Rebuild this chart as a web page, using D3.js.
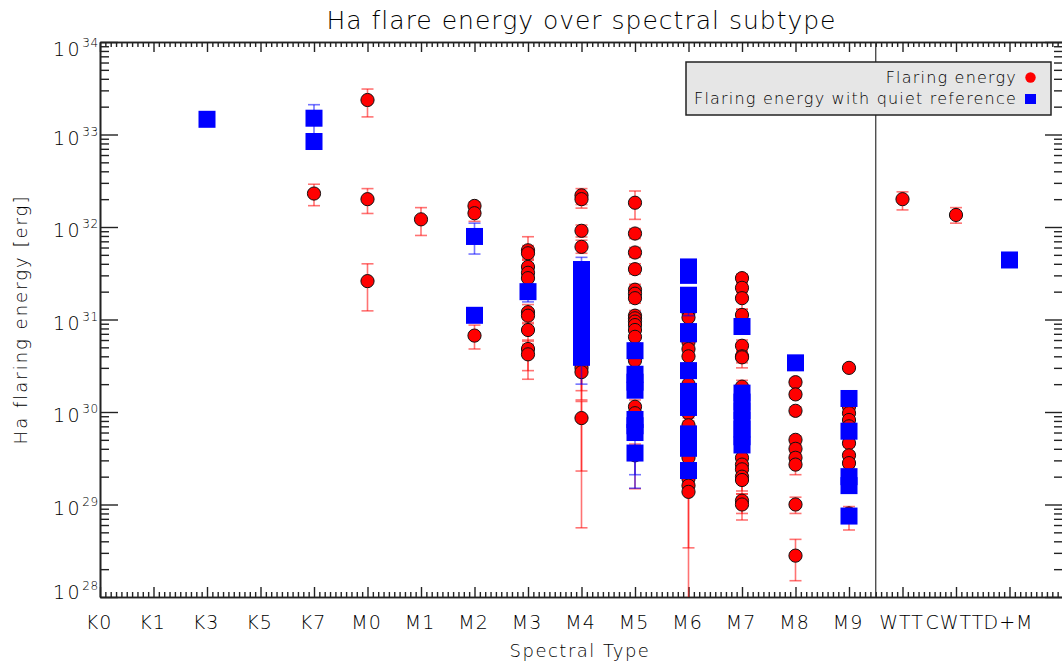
<!DOCTYPE html>
<html><head><meta charset="utf-8">
<script src="https://cdn.jsdelivr.net/npm/d3@7"></script>
<style>
body{margin:0;background:#fff}
svg text{font-family:"DejaVu Sans",sans-serif;font-weight:200;fill:#000}
</style></head><body>
<svg id="chart" width="1062" height="666"></svg>
<script>
// Spectral subtype categories along the x axis (one slot per label)
const categories = ["K0","K1","K3","K5","K7","M0","M1","M2","M3","M4","M5","M6","M7","M8","M9","WTT","CWTT","D+M"];
// Boundary between single subtypes and the combined groups
const groupSplit = 14.5;

// Flaring energy: [subtype, energy, lower error, upper error] (erg)
const flaring = [
  ["K7", 2.3e32, 1.7e32, 2.9e32],
  ["M0", 2.36e33, 1.55e33, 3.1e33],
  ["M0", 2.0e32, 1.4e32, 2.6e32],
  ["M0", 2.6e31, 1.24e31, 4.0e31],
  ["M1", 1.21e32, 8.1e31, 1.62e32],
  ["M2", 1.69e32, 1.5e32, 1.86e32],
  ["M2", 1.41e32, 1.15e32, 1.6e32],
  ["M2", 6.7e30, 4.8e30, 8.7e30],
  ["M3", 5.6e31, 4.6e31, 7.85e31],
  ["M3", 5.2e31, 4.4e31, 6.3e31],
  ["M3", 3.7e31, 3.1e31, 4.4e31],
  ["M3", 3.2e31, 2.7e31, 3.8e31],
  ["M3", 2.8e31, 2.4e31, 3.3e31],
  ["M3", 1.2e31, 1.0e31, 1.45e31],
  ["M3", 1.1e31, 9.0e30, 1.3e31],
  ["M3", 7.7e30, 5.8e30, 9.3e30],
  ["M3", 4.8e30, 2.8e30, 6.0e30],
  ["M3", 4.2e30, 2.26e30, 5.4e30],
  ["M4", 2.2e32, 1.6e32, 2.6e32],
  ["M4", 2.0e32, 1.75e32, 2.35e32],
  ["M4", 9.1e31, 7.8e31, 1.05e32],
  ["M4", 6.1e31, 5.2e31, 7.2e31],
  ["M4", 3.3e30, 2.3e29, 3.9e30],
  ["M4", 3.0e30, 1.7e30, 3.6e30],
  ["M4", 2.7e30, 1.35e30, 3.2e30],
  ["M4", 8.6e29, 5.6e28, 1.3e30],
  ["M5", 1.83e32, 1.21e32, 2.45e32],
  ["M5", 8.5e31, 7.5e31, 9.6e31],
  ["M5", 5.3e31, 4.7e31, 6.0e31],
  ["M5", 3.5e31, 3.1e31, 4.0e31],
  ["M5", 2.1e31, 1.85e31, 2.4e31],
  ["M5", 1.9e31, 1.65e31, 2.2e31],
  ["M5", 1.7e31, 1.5e31, 1.95e31],
  ["M5", 1.1e31, 9.6e30, 1.25e31],
  ["M5", 1.03e31, 9.0e30, 1.18e31],
  ["M5", 9.5e30, 8.3e30, 1.1e31],
  ["M5", 8.7e30, 7.6e30, 1.0e31],
  ["M5", 7.7e30, 6.7e30, 8.9e30],
  ["M5", 6.5e30, 5.6e30, 7.5e30],
  ["M5", 3.6e30, 3.0e30, 4.2e30],
  ["M5", 1.14e30, 9.5e29, 1.35e30],
  ["M5", 9.7e29, 8.0e29, 1.15e30],
  ["M5", 3.4e29, 1.48e29, 4.5e29],
  ["M6", 1.2e31, 1.05e31, 1.4e31],
  ["M6", 1.05e31, 9.0e30, 1.2e31],
  ["M6", 5.7e30, 4.9e30, 6.6e30],
  ["M6", 4.8e30, 4.1e30, 5.6e30],
  ["M6", 4.0e30, 3.4e30, 4.7e30],
  ["M6", 2.0e30, 1.6e30, 2.4e30],
  ["M6", 9.7e29, 8.0e29, 1.15e30],
  ["M6", 7.2e29, 6.0e29, 8.6e29],
  ["M6", 3.2e29, 2.6e29, 3.9e29],
  ["M6", 1.9e29, 1.55e29, 2.3e29],
  ["M6", 1.6e29, 3.4e28, 2.0e29],
  ["M6", 1.37e29, 5.0e27, 1.7e29],
  ["M7", 2.8e31, 2.5e31, 3.1e31],
  ["M7", 2.2e31, 1.95e31, 2.5e31],
  ["M7", 1.7e31, 1.3e31, 2.0e31],
  ["M7", 1.12e31, 9.8e30, 1.28e31],
  ["M7", 5.2e30, 4.5e30, 6.0e30],
  ["M7", 4.0e30, 3.4e30, 4.6e30],
  ["M7", 3.9e30, 3.0e30, 4.5e30],
  ["M7", 1.88e30, 1.6e30, 2.2e30],
  ["M7", 3.2e29, 2.7e29, 3.8e29],
  ["M7", 2.7e29, 2.3e29, 3.2e29],
  ["M7", 2.4e29, 2.0e29, 2.8e29],
  ["M7", 2.0e29, 1.4e29, 2.4e29],
  ["M7", 1.84e29, 1.3e29, 2.2e29],
  ["M7", 1.1e29, 8.0e28, 1.3e29],
  ["M7", 1.0e29, 6.8e28, 1.2e29],
  ["M8", 2.1e30, 1.9e30, 2.3e30],
  ["M8", 1.55e30, 1.4e30, 1.7e30],
  ["M8", 1.03e30, 9.3e29, 1.14e30],
  ["M8", 5.0e29, 4.5e29, 5.5e29],
  ["M8", 4.0e29, 3.6e29, 4.4e29],
  ["M8", 3.2e29, 2.9e29, 3.5e29],
  ["M8", 2.7e29, 2.1e29, 3.0e29],
  ["M8", 1.0e29, 8.0e28, 1.2e29],
  ["M8", 2.8e28, 1.5e28, 4.2e28],
  ["M9", 3.0e30, 2.8e30, 3.2e30],
  ["M9", 1.14e30, 1.04e30, 1.25e30],
  ["M9", 9.7e29, 8.8e29, 1.06e30],
  ["M9", 8.2e29, 7.5e29, 9.0e29],
  ["M9", 7.0e29, 6.4e29, 7.7e29],
  ["M9", 5.5e29, 5.0e29, 6.0e29],
  ["M9", 4.6e29, 4.2e29, 5.0e29],
  ["M9", 3.4e29, 3.1e29, 3.7e29],
  ["M9", 2.8e29, 2.5e29, 3.1e29],
  ["M9", 8.0e28, 5.3e28, 9.5e28],
  ["WTT", 2.0e32, 1.53e32, 2.4e32],
  ["CWTT", 1.35e32, 1.1e32, 1.62e32]
];

// Flaring energy measured against a quiet reference: [subtype, energy, lower, upper]
const quietRef = [
  ["K3", 1.46e33, 1.38e33, 1.55e33],
  ["K7", 1.5e33, 1.0e33, 2.1e33],
  ["K7", 8.4e32, 7.6e32, 9.3e32],
  ["M2", 7.9e31, 5.1e31, 1.1e32],
  ["M2", 1.11e31, 1.0e31, 1.22e31],
  ["M3", 2.0e31, 1.55e31, 2.4e31],
  ["M4", 3.47e31, 3.1e31, 4.7e31],
  ["M4", 2.5e31, 2.2e31, 2.8e31],
  ["M4", 1.9e31, 1.7e31, 2.1e31],
  ["M4", 1.41e31, 1.25e31, 1.6e31],
  ["M4", 1.02e31, 9.0e30, 1.15e31],
  ["M4", 7.6e30, 6.7e30, 8.6e30],
  ["M4", 5.75e30, 5.1e30, 6.5e30],
  ["M4", 4.4e30, 3.9e30, 5.0e30],
  ["M4", 3.9e30, 2.0e30, 4.4e30],
  ["M5", 4.6e30, 4.0e30, 5.2e30],
  ["M5", 2.56e30, 2.3e30, 2.9e30],
  ["M5", 2.1e30, 1.9e30, 2.35e30],
  ["M5", 1.72e30, 1.5e30, 1.95e30],
  ["M5", 8.3e29, 7.4e29, 9.3e29],
  ["M5", 7.1e29, 6.3e29, 8.0e29],
  ["M5", 6.0e29, 2.1e29, 6.8e29],
  ["M5", 3.6e29, 1.5e29, 4.1e29],
  ["M6", 3.7e31, 3.3e31, 4.1e31],
  ["M6", 3.0e31, 2.7e31, 3.4e31],
  ["M6", 1.83e31, 1.6e31, 2.1e31],
  ["M6", 1.45e31, 1.1e31, 1.65e31],
  ["M6", 7.4e30, 6.6e30, 8.3e30],
  ["M6", 7.0e30, 6.2e30, 7.8e30],
  ["M6", 2.8e30, 2.5e30, 3.15e30],
  ["M6", 1.67e30, 1.5e30, 1.85e30],
  ["M6", 1.38e30, 1.25e30, 1.55e30],
  ["M6", 1.12e30, 1.0e30, 1.25e30],
  ["M6", 5.8e29, 5.2e29, 6.5e29],
  ["M6", 4.85e29, 4.3e29, 5.4e29],
  ["M6", 4.05e29, 3.6e29, 4.5e29],
  ["M6", 2.33e29, 2.1e29, 2.6e29],
  ["M7", 8.4e30, 7.4e30, 9.5e30],
  ["M7", 1.6e30, 1.45e30, 1.8e30],
  ["M7", 1.28e30, 1.15e30, 1.42e30],
  ["M7", 1.03e30, 9.2e29, 1.15e30],
  ["M7", 8.2e29, 7.3e29, 9.2e29],
  ["M7", 6.55e29, 5.8e29, 7.4e29],
  ["M7", 5.4e29, 4.8e29, 6.0e29],
  ["M7", 4.4e29, 3.9e29, 4.9e29],
  ["M8", 3.4e30, 3.1e30, 3.7e30],
  ["M9", 1.4e30, 1.27e30, 1.55e30],
  ["M9", 6.2e29, 5.6e29, 6.9e29],
  ["M9", 2.0e29, 1.8e29, 2.2e29],
  ["M9", 1.6e29, 1.45e29, 1.75e29],
  ["M9", 7.5e28, 6.5e28, 8.5e28],
  ["D+M", 4.4e31, 4.2e31, 4.6e31]
];

const yExponents = [28, 29, 30, 31, 32, 33, 34];
const legendLabels = ["Flaring energy", "Flaring energy with quiet reference"];

(function () {
  // ---- layout ----
  const pLeft = 100, pRight = 1063, pTop = 42, pBottom = 597;
  const svg = d3.select("#chart");
  const ink = "#222";

  const x = d3.scaleLinear().domain([0, categories.length]).range([pLeft, pRight]);
  const y = d3.scaleLog().domain([1e28, 1e34]).range([pBottom, pTop]);
  const xi = c => x(categories.indexOf(c));

  svg.append("defs").append("clipPath").attr("id", "plotClip")
    .append("rect").attr("x", pLeft).attr("y", pTop).attr("width", pRight - pLeft).attr("height", pBottom - pTop);

  // ---- axes ----
  function styleAxis(g) {
    g.selectAll("path.domain").attr("stroke", ink).attr("stroke-width", 1.6);
    g.selectAll(".tick line").attr("stroke", ink).attr("stroke-width", 1.4);
    g.selectAll(".tick text").remove();
  }
  const majorX = d3.range(0, categories.length + 1);
  const minorX = d3.range(0, categories.length * 10 + 1).map(i => i / 10).filter(v => Math.abs(v - Math.round(v)) > 1e-6);
  const majorY = yExponents.map(e => Math.pow(10, e));
  const minorY = y.ticks().filter(v => !majorY.some(m => Math.abs(m - v) / m < 1e-9));

  svg.append("g").attr("transform", `translate(0,${pBottom})`)
    .call(d3.axisBottom(x).tickValues(majorX).tickSize(-10).tickSizeOuter(0)).call(styleAxis);
  svg.append("g").attr("transform", `translate(0,${pBottom})`)
    .call(d3.axisBottom(x).tickValues(minorX).tickSize(-5).tickSizeOuter(0)).call(styleAxis);
  svg.append("g").attr("transform", `translate(0,${pTop})`)
    .call(d3.axisTop(x).tickValues(majorX).tickSize(-10).tickSizeOuter(0)).call(styleAxis);
  svg.append("g").attr("transform", `translate(0,${pTop})`)
    .call(d3.axisTop(x).tickValues(minorX).tickSize(-5).tickSizeOuter(0)).call(styleAxis);
  svg.append("g").attr("transform", `translate(${pLeft},0)`)
    .call(d3.axisLeft(y).tickValues(majorY).tickSize(-18).tickSizeOuter(0)).call(styleAxis);
  svg.append("g").attr("transform", `translate(${pLeft},0)`)
    .call(d3.axisLeft(y).tickValues(minorY).tickSize(-9).tickSizeOuter(0)).call(styleAxis);
  svg.append("g").attr("transform", `translate(${pRight},0)`)
    .call(d3.axisRight(y).tickValues(majorY).tickSize(-18).tickSizeOuter(0)).call(styleAxis);
  svg.append("g").attr("transform", `translate(${pRight},0)`)
    .call(d3.axisRight(y).tickValues(minorY).tickSize(-9).tickSizeOuter(0)).call(styleAxis);

  // y tick labels as powers of ten
  yExponents.forEach(e => {
    const off = e === yExponents[yExponents.length - 1] ? 14 : (e === yExponents[0] ? 1.5 : 10);
    const t = svg.append("text").attr("x", pLeft - 1).attr("y", y(Math.pow(10, e)) + off)
      .attr("text-anchor", "end").attr("font-size", 19);
    t.append("tspan").attr("letter-spacing", 2.5).text("10");
    t.append("tspan").attr("font-size", 12).attr("dy", -9).attr("letter-spacing", 0.8).text(e);
  });

  // x category labels
  svg.append("g").selectAll("text").data(categories).join("text")
    .attr("x", (d, i) => x(i) - 1).attr("y", 629)
    .attr("text-anchor", "middle").attr("font-size", 19).attr("letter-spacing", 1)
    .text(d => d);

  // titles
  svg.append("text").attr("x", (pLeft + pRight) / 2).attr("y", 29)
    .attr("text-anchor", "middle").attr("font-size", 25).attr("letter-spacing", 1)
    .text("Ha flare energy over spectral subtype");
  svg.append("text").attr("x", 580).attr("y", 657)
    .attr("text-anchor", "middle").attr("font-size", 18).attr("letter-spacing", 1.5)
    .text("Spectral Type");
  svg.append("text").attr("transform", `translate(27,${(pTop + pBottom) / 2}) rotate(-90)`)
    .attr("text-anchor", "middle").attr("font-size", 18).attr("letter-spacing", 2)
    .text("Ha flaring energy [erg]");

  // separator between subtypes and groups
  svg.append("line").attr("x1", x(groupSplit)).attr("x2", x(groupSplit))
    .attr("y1", pTop).attr("y2", pBottom).attr("stroke", "#333").attr("stroke-width", 1.2);

  // ---- data ----
  const plot = svg.append("g").attr("clip-path", "url(#plotClip)");
  const capHalf = 6;
  function errorBars(g, rows, color) {
    const eb = g.append("g").attr("stroke", color).attr("stroke-width", 1.6).attr("stroke-opacity", 0.55);
    eb.selectAll("line.v").data(rows).join("line").attr("class", "v")
      .attr("x1", d => xi(d[0])).attr("x2", d => xi(d[0]))
      .attr("y1", d => y(d[2])).attr("y2", d => y(d[3]));
    eb.selectAll("line.lo").data(rows).join("line").attr("class", "lo")
      .attr("x1", d => xi(d[0]) - capHalf).attr("x2", d => xi(d[0]) + capHalf)
      .attr("y1", d => y(d[2])).attr("y2", d => y(d[2]));
    eb.selectAll("line.hi").data(rows).join("line").attr("class", "hi")
      .attr("x1", d => xi(d[0]) - capHalf).attr("x2", d => xi(d[0]) + capHalf)
      .attr("y1", d => y(d[3])).attr("y2", d => y(d[3]));
  }
  errorBars(plot, flaring, "#ff0000");
  plot.append("g").selectAll("circle").data(flaring).join("circle")
    .attr("cx", d => xi(d[0])).attr("cy", d => y(d[1])).attr("r", 6.6)
    .attr("fill", "#ff0000").attr("stroke", "#111").attr("stroke-width", 1);
  errorBars(plot, quietRef, "#0000ff");
  const sq = 17;
  plot.append("g").selectAll("rect").data(quietRef).join("rect")
    .attr("x", d => xi(d[0]) - sq / 2).attr("y", d => y(d[1]) - sq / 2)
    .attr("width", sq).attr("height", sq).attr("fill", "#0000ff");

  // ---- legend ----
  const lg = svg.append("g");
  lg.append("rect").attr("x", 686).attr("y", 62).attr("width", 365).attr("height", 53)
    .attr("fill", "#e6e6e6").attr("stroke", ink).attr("stroke-width", 1.5);
  lg.selectAll("text").data(legendLabels).join("text")
    .attr("x", 1017).attr("y", (d, i) => 83 + i * 21)
    .attr("text-anchor", "end").attr("font-size", 16).attr("letter-spacing", 1.2)
    .text(d => d);
  lg.append("circle").attr("cx", 1030.5).attr("cy", 77.5).attr("r", 5.2).attr("fill", "#ff0000");
  lg.append("rect").attr("x", 1025).attr("y", 94).attr("width", 11).attr("height", 10).attr("fill", "#0000ff");
})();
</script>
</body></html>
